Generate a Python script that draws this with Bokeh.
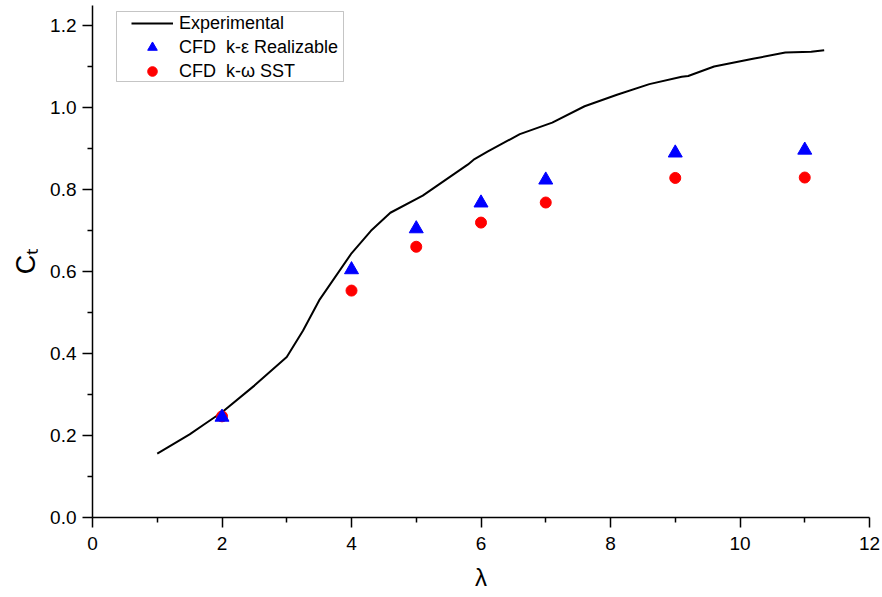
from bokeh.plotting import figure
from bokeh.models import (Legend, LegendItem, Range1d, BoxAnnotation, FixedTicker,
                          CustomJSTickFormatter)
from bokeh.embed import file_html
from bokeh.resources import INLINE

# Experimental curve
exp_x = [1.0, 1.5, 1.75, 2.0, 2.5, 3.0, 3.25, 3.5, 4.0, 4.3, 4.6, 5.1, 5.8, 5.9, 6.1,
         6.6, 7.1, 7.6, 8.1, 8.6, 9.1, 9.2, 9.6, 10.2, 10.7, 11.1, 11.3]
exp_y = [0.156, 0.203, 0.230, 0.257, 0.322, 0.392, 0.456, 0.530, 0.645, 0.700, 0.744,
         0.786, 0.862, 0.875, 0.893, 0.936, 0.964, 1.004, 1.032, 1.058, 1.076, 1.078,
         1.101, 1.120, 1.135, 1.137, 1.141]

# CFD results
cfd_x = [2, 4, 5, 6, 7, 9, 11]
ke_y = [0.245, 0.605, 0.705, 0.768, 0.824, 0.890, 0.897]
kw_y = [0.247, 0.554, 0.661, 0.720, 0.769, 0.829, 0.830]

labels = ["Experimental", "CFD  k-\u03b5 Realizable", "CFD  k-\u03c9 SST"]
x_ticks = [0, 2, 4, 6, 8, 10, 12]
x_minor = [1, 3, 5, 7, 9, 11]
y_ticks = [0, 0.2, 0.4, 0.6, 0.8, 1.0, 1.2]
y_minor = [0.1, 0.3, 0.5, 0.7, 0.9, 1.1]

FONT = "Liberation Sans"

p = figure(width=882, height=597, output_backend="svg", toolbar_location=None,
           x_range=Range1d(0, 12), y_range=Range1d(0, 1.25),
           min_border_left=92, min_border_right=13, min_border_top=5, min_border_bottom=80)
p.xgrid.visible = False
p.ygrid.visible = False
p.outline_line_color = None
p.background_fill_color = "white"

r_exp = p.line(exp_x, exp_y, line_color="black", line_width=2)
r_kw = p.scatter(cfd_x, kw_y, marker="circle", size=11, fill_color="red", line_color="red")
r_ke = p.scatter(cfd_x, ke_y, marker="triangle", size=14, fill_color="blue", line_color="blue")

for ax in (p.xaxis[0], p.yaxis[0]):
    ax.axis_line_color = "black"
    ax.axis_line_width = 1.5
    ax.major_tick_line_width = 1.5
    ax.minor_tick_line_width = 1.5
    ax.major_tick_in = 0
    ax.major_tick_out = 10
    ax.minor_tick_in = 0
    ax.minor_tick_out = 5
    ax.major_label_text_font = FONT
    ax.major_label_text_font_size = "19px"
    ax.major_label_text_color = "black"
    ax.axis_label_text_font = FONT
    ax.axis_label_text_font_style = "normal"
    ax.axis_label_text_color = "black"

p.xaxis[0].ticker = FixedTicker(ticks=x_ticks, minor_ticks=x_minor)
p.yaxis[0].ticker = FixedTicker(ticks=y_ticks, minor_ticks=y_minor)
p.yaxis[0].formatter = CustomJSTickFormatter(code="return tick.toFixed(1);")
p.xaxis[0].major_label_standoff = 9
p.yaxis[0].major_label_standoff = 6
p.xaxis[0].axis_label = "\u03bb"
p.xaxis[0].axis_label_text_font_size = "24px"
p.xaxis[0].axis_label_standoff = 11
p.yaxis[0].axis_label = "C\u209c"
p.yaxis[0].axis_label_text_font_size = "27px"
p.yaxis[0].axis_label_standoff = 6

box = BoxAnnotation(left=116, right=343, top=11, bottom=81,
                    left_units="canvas", right_units="canvas",
                    top_units="canvas", bottom_units="canvas",
                    fill_color="white", fill_alpha=1.0,
                    line_color="#404040", line_width=1)
p.add_layout(box)

legend = Legend(items=[LegendItem(label=labels[0], renderers=[r_exp]),
                       LegendItem(label=labels[1], renderers=[r_ke]),
                       LegendItem(label=labels[2], renderers=[r_kw])],
                location=(39, 434), padding=0, margin=0, spacing=0,
                glyph_width=42, glyph_height=24, label_height=24,
                label_standoff=6, border_line_color=None,
                background_fill_alpha=0.0,
                label_text_font=FONT, label_text_font_size="18px",
                label_text_color="black")
p.add_layout(legend)

open("out.html", "w").write(file_html(p, INLINE))
